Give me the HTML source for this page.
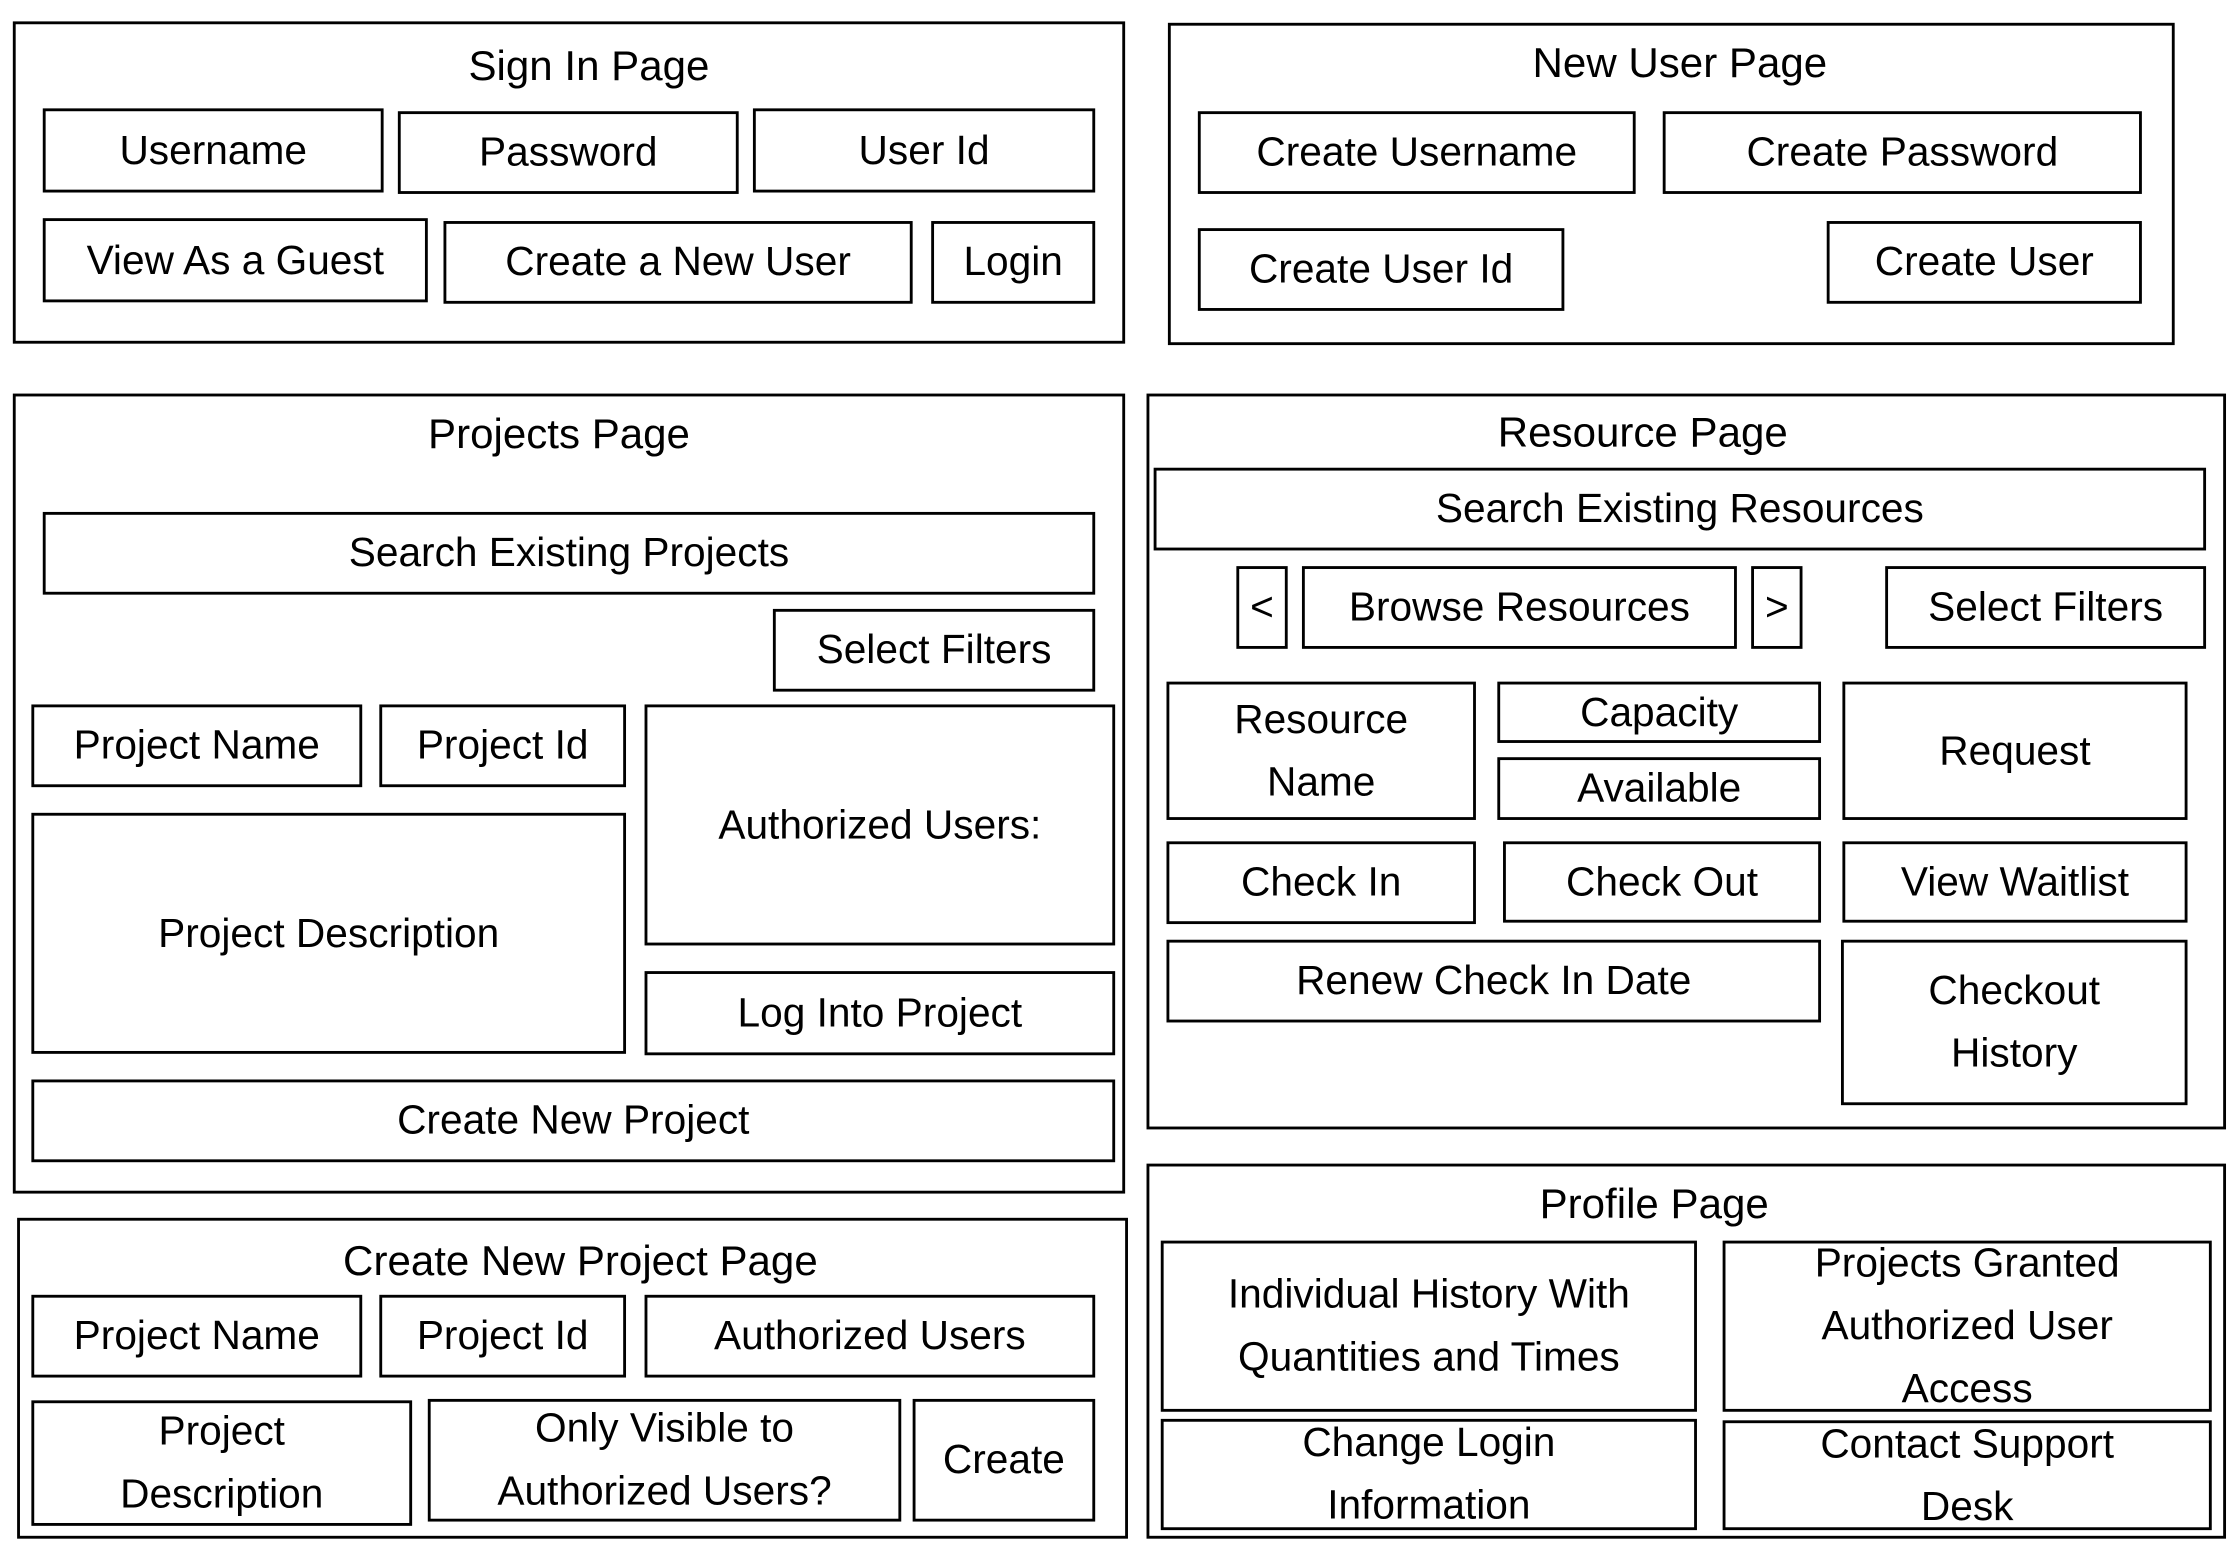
<!DOCTYPE html>
<html><head><meta charset="utf-8"><style>
html,body{margin:0;padding:0;background:#fff;width:2236px;height:1548px;overflow:hidden}
#s{position:absolute;left:0;top:0;width:1568px;height:1086px;transform:scale(1.42602);transform-origin:0 0}
.b{position:absolute;box-sizing:border-box;border:2.3px solid #000;display:flex;align-items:center;justify-content:center;text-align:center;font-family:"Liberation Sans",sans-serif;font-size:28.5px;line-height:44px;color:#000;white-space:nowrap}
.o{position:absolute;box-sizing:border-box;border:2.3px solid #000}
.t{position:absolute;font-family:"Liberation Sans",sans-serif;font-size:29.5px;line-height:34px;text-align:center;white-space:nowrap;transform:translateX(-50%)}
</style></head><body><div id="s">
<div class="o" style="left:9px;top:15px;width:780px;height:226px"></div>
<div class="t" style="left:413px;top:30px">Sign In Page</div>
<div class="b" style="left:30px;top:76px;width:239px;height:59px">Username</div>
<div class="b" style="left:279px;top:78px;width:239px;height:58px">Password</div>
<div class="b" style="left:528px;top:76px;width:240px;height:59px">User Id</div>
<div class="b" style="left:30px;top:153px;width:270px;height:59px">View As a Guest</div>
<div class="b" style="left:311px;top:155px;width:329px;height:58px">Create a New User</div>
<div class="b" style="left:653px;top:155px;width:115px;height:58px">Login</div>

<div class="o" style="left:819px;top:16px;width:706px;height:226px"></div>
<div class="t" style="left:1178px;top:28px">New User Page</div>
<div class="b" style="left:840px;top:78px;width:307px;height:58px">Create Username</div>
<div class="b" style="left:1166px;top:78px;width:336px;height:58px">Create Password</div>
<div class="b" style="left:840px;top:160px;width:257px;height:58px">Create User Id</div>
<div class="b" style="left:1281px;top:155px;width:221px;height:58px">Create User</div>

<div class="o" style="left:9px;top:276px;width:780px;height:561px"></div>
<div class="t" style="left:392px;top:288px">Projects Page</div>
<div class="b" style="left:30px;top:359px;width:738px;height:58px">Search Existing Projects</div>
<div class="b" style="left:542px;top:427px;width:226px;height:58px">Select Filters</div>
<div class="b" style="left:22px;top:494px;width:232px;height:58px">Project Name</div>
<div class="b" style="left:266px;top:494px;width:173px;height:58px">Project Id</div>
<div class="b" style="left:452px;top:494px;width:330px;height:169px">Authorized Users:</div>
<div class="b" style="left:22px;top:570px;width:417px;height:169px">Project Description</div>
<div class="b" style="left:452px;top:681px;width:330px;height:59px">Log Into Project</div>
<div class="b" style="left:22px;top:757px;width:760px;height:58px">Create New Project</div>

<div class="o" style="left:12px;top:854px;width:779px;height:225px"></div>
<div class="t" style="left:407px;top:868px">Create New Project Page</div>
<div class="b" style="left:22px;top:908px;width:232px;height:58px">Project Name</div>
<div class="b" style="left:266px;top:908px;width:173px;height:58px">Project Id</div>
<div class="b" style="left:452px;top:908px;width:316px;height:58px">Authorized Users</div>
<div class="b" style="left:22px;top:982px;width:267px;height:88px">Project<br>Description</div>
<div class="b" style="left:300px;top:981px;width:332px;height:86px">Only Visible to<br>Authorized Users?</div>
<div class="b" style="left:640px;top:981px;width:128px;height:86px">Create</div>

<div class="o" style="left:804px;top:276px;width:757px;height:516px"></div>
<div class="t" style="left:1152px;top:287px">Resource Page</div>
<div class="b" style="left:809px;top:328px;width:738px;height:58px">Search Existing Resources</div>
<div class="b" style="left:867px;top:397px;width:36px;height:58px">&lt;</div>
<div class="b" style="left:913px;top:397px;width:305px;height:58px">Browse Resources</div>
<div class="b" style="left:1228px;top:397px;width:36px;height:58px">&gt;</div>
<div class="b" style="left:1322px;top:397px;width:225px;height:58px">Select Filters</div>
<div class="b" style="left:818px;top:478px;width:217px;height:97px">Resource<br>Name</div>
<div class="b" style="left:1050px;top:478px;width:227px;height:43px">Capacity</div>
<div class="b" style="left:1050px;top:531px;width:227px;height:44px">Available</div>
<div class="b" style="left:1292px;top:478px;width:242px;height:97px">Request</div>
<div class="b" style="left:818px;top:590px;width:217px;height:58px">Check In</div>
<div class="b" style="left:1054px;top:590px;width:223px;height:57px">Check Out</div>
<div class="b" style="left:1292px;top:590px;width:242px;height:57px">View Waitlist</div>
<div class="b" style="left:818px;top:659px;width:459px;height:58px">Renew Check In Date</div>
<div class="b" style="left:1291px;top:659px;width:243px;height:116px">Checkout<br>History</div>

<div class="o" style="left:804px;top:816px;width:757px;height:263px"></div>
<div class="t" style="left:1160px;top:828px">Profile Page</div>
<div class="b" style="left:814px;top:870px;width:376px;height:120px">Individual History With<br>Quantities and Times</div>
<div class="b" style="left:1208px;top:870px;width:343px;height:120px">Projects Granted<br>Authorized User<br>Access</div>
<div class="b" style="left:814px;top:995px;width:376px;height:78px">Change Login<br>Information</div>
<div class="b" style="left:1208px;top:996px;width:343px;height:77px">Contact Support<br>Desk</div>
</div></body></html>
